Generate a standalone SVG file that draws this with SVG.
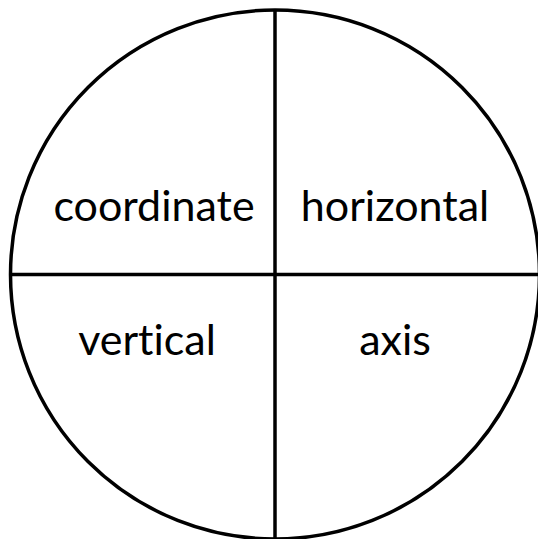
<svg xmlns="http://www.w3.org/2000/svg" width="538" height="539" viewBox="0 0 538 539">
<style>
.lbl{font-family:Lato,"Open Sans",sans-serif;font-size:43px;fill:#000;text-anchor:middle;font-variant-ligatures:none}
.ln{stroke:#000;stroke-width:3.5;fill:none}
</style>
<rect width="538" height="539" fill="#fff"/>
<g id="connectors">
<circle class="ln" cx="275" cy="274.5" r="264.5"/>
<line class="ln" x1="275" y1="10" x2="275" y2="539"/>
<line class="ln" x1="10" y1="274.5" x2="538" y2="274.5"/>
</g>
<g id="coordinate"><text class="lbl" x="154" y="221">coordinate</text></g>
<g id="horizontal"><text class="lbl" x="395" y="221">horizontal</text></g>
<g id="vertical"><text class="lbl" x="147" y="355">vertical</text></g>
<g id="axis"><text class="lbl" x="395" y="355">axis</text></g>
</svg>
